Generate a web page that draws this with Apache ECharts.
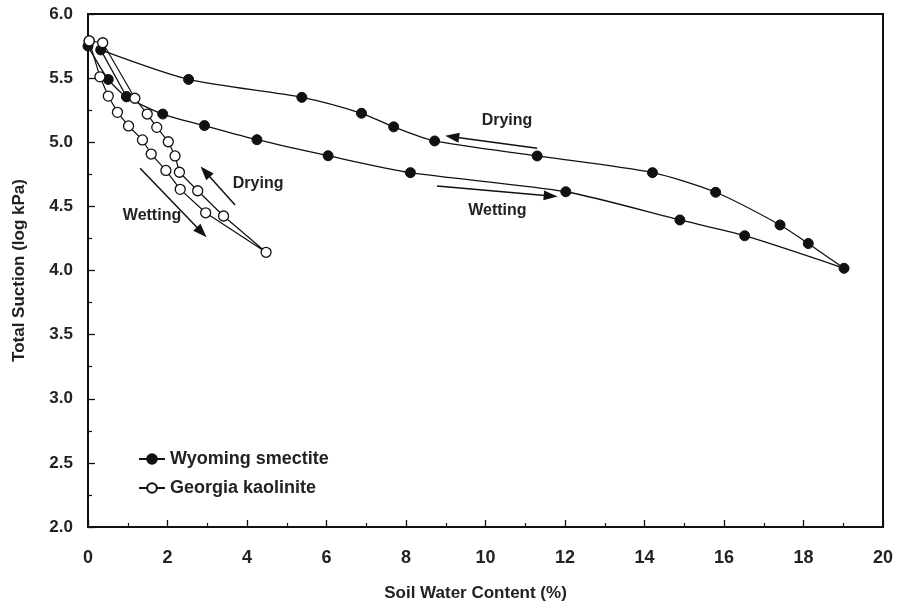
<!DOCTYPE html>
<html>
<head>
<meta charset="utf-8">
<script src="https://cdn.jsdelivr.net/npm/echarts@6/dist/echarts.min.js"></script>
<style>html,body{margin:0;padding:0;background:#fff;}#c{width:899px;height:608px;}</style>
</head>
<body>
<div id="c"></div>
<script>
// Wyoming smectite: wetting branch (lower) then drying branch (upper)
const smectiteX = [0, 0.51, 0.97, 1.88, 2.93, 4.25, 6.04, 8.11, 12.02, 14.89, 16.52, 19.02, 18.12, 17.41, 15.79, 14.2, 11.3, 8.72, 7.69, 6.88, 5.38, 2.53, 0.32, 0.97];
const smectiteY = [5.75, 5.49, 5.355, 5.22, 5.13, 5.02, 4.895, 4.763, 4.614, 4.394, 4.271, 4.017, 4.21, 4.355, 4.61, 4.763, 4.893, 5.01, 5.12, 5.226, 5.35, 5.49, 5.72, 5.355];
// Georgia kaolinite: wetting branch then drying branch
const kaoliniteX = [0.03, 0.3, 0.51, 0.74, 1.02, 1.37, 1.59, 1.96, 2.32, 2.96, 4.48, 3.41, 2.76, 2.30, 2.19, 2.02, 1.73, 1.49, 1.18, 0.37, 0.03];
const kaoliniteY = [5.79, 5.51, 5.36, 5.233, 5.127, 5.018, 4.908, 4.78, 4.633, 4.45, 4.142, 4.425, 4.622, 4.766, 4.893, 5.004, 5.116, 5.22, 5.343, 5.776, 5.79];
const seriesNames = ["Wyoming smectite", "Georgia kaolinite"];
// annotation arrows: [startX, startY, endX, endY]
const arrowLines = [[11.30, 4.953, 9.16, 5.043], [8.78, 4.659, 11.64, 4.581], [3.70, 4.511, 2.95, 4.77], [1.31, 4.797, 2.86, 4.298]];
// annotation labels: [text, x, y]
const annoTexts = [["Drying", 10.54, 5.168], ["Wetting", 10.3, 4.47], ["Drying", 4.28, 4.68], ["Wetting", 1.61, 4.425]];
const xTicks = {min: 0, max: 20, interval: 2};
const yTicks = {min: 2.0, max: 6.0, interval: 0.5};

const zip = (a, b) => a.map((v, i) => [v, b[i]]);
const font = "'Liberation Sans', Arial, sans-serif";

const chart = echarts.init(document.getElementById('c'));
chart.setOption({
  animation: false,
  backgroundColor: '#fff',
  grid: {left: 88, right: 16, top: 14, bottom: 81, show: true, borderColor: '#111', borderWidth: 2, backgroundColor: 'transparent'},
  xAxis: {
    type: 'value', min: xTicks.min, max: xTicks.max, interval: xTicks.interval,
    name: 'Soil Water Content (%)', nameLocation: 'middle', nameGap: 58,
    nameTextStyle: {fontFamily: font, fontWeight: 'bold', fontSize: 17, color: '#222', padding: [0, 20, 0, 0]},
    axisLine: {lineStyle: {color: '#111', width: 2}},
    axisTick: {inside: true, length: 7, lineStyle: {color: '#111', width: 1.3}},
    minorTick: {show: true, splitNumber: 2, length: 4, lineStyle: {color: '#111', width: 1.2}},
    axisLabel: {fontFamily: font, fontWeight: 'bold', fontSize: 18, color: '#222', margin: 22},
    splitLine: {show: false}
  },
  yAxis: {
    type: 'value', min: yTicks.min, max: yTicks.max, interval: yTicks.interval,
    name: 'Total Suction (log kPa)', nameLocation: 'middle', nameGap: 60, nameRotate: 90,
    nameTextStyle: {fontFamily: font, fontWeight: 'bold', fontSize: 17, color: '#222'},
    axisLine: {lineStyle: {color: '#111', width: 2}},
    axisTick: {inside: true, length: 7, lineStyle: {color: '#111', width: 1.3}},
    minorTick: {show: true, splitNumber: 2, length: 4, lineStyle: {color: '#111', width: 1.2}},
    axisLabel: {fontFamily: font, fontWeight: 'bold', fontSize: 17, color: '#222', margin: 15, formatter: v => v.toFixed(1)},
    splitLine: {show: false}
  },
  legend: {
    orient: 'vertical', left: 133, top: 445, itemGap: 11, itemWidth: 26, itemHeight: 12,
    textStyle: {fontFamily: font, fontWeight: 'bold', fontSize: 18, color: '#222'},
    data: seriesNames
  },
  series: [
    {
      name: seriesNames[0], type: 'line', data: zip(smectiteX, smectiteY), smooth: 0.25,
      symbol: 'circle', symbolSize: 10,
      lineStyle: {color: '#111', width: 1.3},
      itemStyle: {color: '#111', borderColor: '#111', borderWidth: 1},
      markLine: {
        silent: true, symbol: ['none', 'triangle'], symbolSize: [10, 14],
        lineStyle: {color: '#111', width: 1.5, type: 'solid'},
        label: {show: false},
        data: arrowLines.map(a => [{coord: [a[0], a[1]]}, {coord: [a[2], a[3]]}])
      },
      markPoint: {
        silent: true, symbol: 'circle', symbolSize: 1, itemStyle: {color: 'transparent'},
        label: {show: true, position: 'inside', fontFamily: font, fontWeight: 'bold', fontSize: 16, color: '#222', formatter: p => p.name},
        data: annoTexts.map(t => ({name: t[0], coord: [t[1], t[2]]}))
      },
      z: 3
    },
    {
      name: seriesNames[1], type: 'line', data: zip(kaoliniteX, kaoliniteY),
      symbol: 'circle', symbolSize: 10,
      lineStyle: {color: '#111', width: 1.2},
      itemStyle: {color: '#fff', borderColor: '#111', borderWidth: 1.3},
      z: 4
    }
  ]
});
</script>
</body>
</html>
